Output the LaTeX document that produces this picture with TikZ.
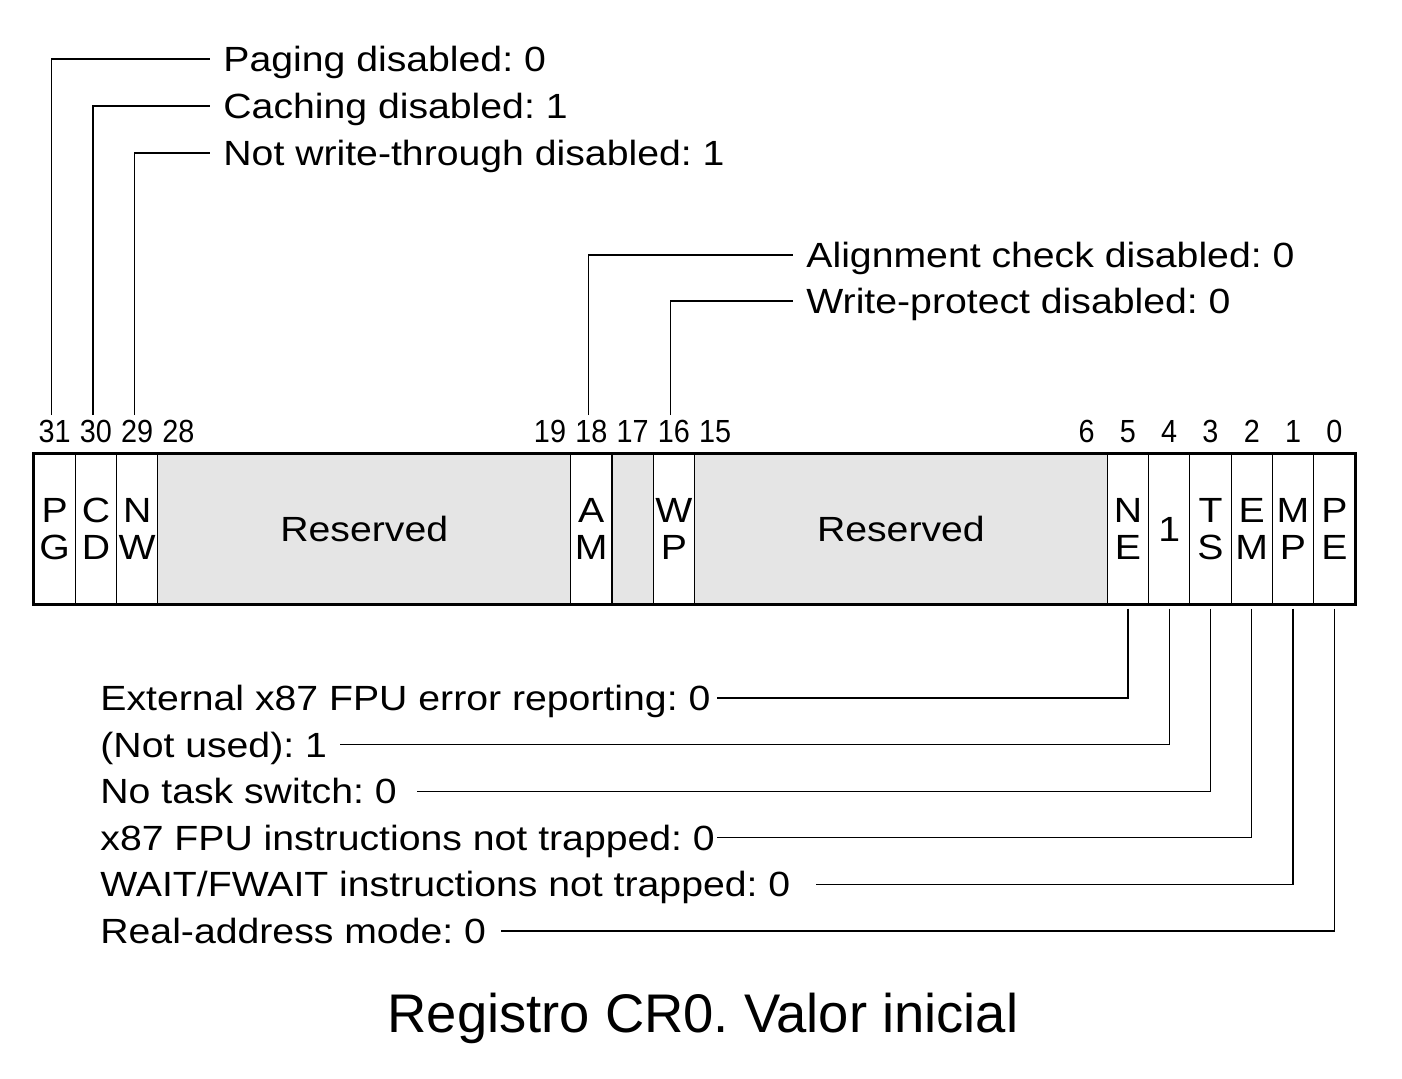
\documentclass[tikz,border=0pt]{standalone}
\usepackage{fontspec}
\setmainfont{Liberation Sans}
\newfontfamily\widesf{Liberation Sans}[FakeStretch=1.12]
\newfontfamily\narrowsf{Liberation Sans}[FakeStretch=0.9]
\usetikzlibrary{positioning}
\frenchspacing

\definecolor{resgray}{HTML}{E5E5E5}

\tikzset{
    regcell/.style={draw, line width=0.6pt, minimum height=75pt, inner sep=0pt,
        align=center, font=\widesf\fontsize{17.5}{18.3}\selectfont},
    bitnum/.style={font=\narrowsf\fontsize{16}{16}\selectfont, inner sep=2pt,
        text height=11.5pt, text depth=0pt},
    flaglbl/.style={font=\widesf\fontsize{17.5}{18}\selectfont, inner sep=0pt,
        text height=12.5pt, text depth=0pt},
    leader/.style={line width=0.6pt}
}

\begin{document}
\begin{tikzpicture}[x=0.5pt, y=-0.5pt]
            \useasboundingbox (0,0) rectangle (1402,1078);
            % register fields
            \foreach \nm/\hi/\lo/\txt/\fc in {pg/31/31/{P\\G}/white, cd/30/30/{C\\D}/white,
                nw/29/29/{N\\W}/white, resa/28/19/Reserved/resgray, am/18/18/{A\\M}/white,
                bxvii/17/17/{}/resgray, wp/16/16/{W\\P}/white, resb/15/6/Reserved/resgray,
                ne/5/5/{N\\E}/white, et/4/4/1/white, ts/3/3/{T\\S}/white,
                em/2/2/{E\\M}/white, mp/1/1/{M\\P}/white, pe/0/0/{P\\E}/white}{
                \pgfmathsetmacro\nb{\hi-\lo+1}
                \pgfmathsetmacro\cx{34+(31-\hi+\nb/2)*41.28}
                \node[regcell, fill=\fc, minimum width=\nb*20.64pt] (\nm) at (\cx,529) {\txt};
            }
            \draw[line width=1.1pt] (pg.north west) rectangle (pe.south east);
            % bit numbers
            \foreach \b in {31,30,29,28,19,18,17,16,15,6,5,4,3,2,1,0}
                \node[bitnum] (n\b) at ({34+(31.5-\b)*41.28},431) {\b};
            % upper flags
            \foreach \nm/\b/\x/\y/\txt in {pg/31/223/59/Paging disabled: 0,
                cd/30/223/106/Caching disabled: 1,
                nw/29/223/153/Not write-through disabled: 1,
                am/18/806/255/Alignment check disabled: 0,
                wp/16/806/301/Write-protect disabled: 0}{
                \node[flaglbl, anchor=west] (\nm-lbl) at (\x,\y) {\txt};
                \draw[leader] ([xshift=-1.5pt]n\b.north) |- ([xshift=-6.5pt]\nm-lbl.west);
            }
            % lower flags
            \foreach \nm/\y/\g/\txt in {ne/698/6/External x87 FPU error reporting: 0,
                et/744.6/13/(Not used): 1,
                ts/791.2/20/No task switch: 0,
                em/837.8/2/x87 FPU instructions not trapped: 0,
                mp/884.4/25/{WAIT/FWAIT instructions not trapped: 0},
                pe/931/15/Real-address mode: 0}{
                \node[flaglbl, anchor=west] (\nm-lbl) at (100,\y) {\txt};
                \draw[leader] ([yshift=-2pt]\nm.south) |- ([xshift=\g*0.5pt]\nm-lbl.east);
            }
            \node[font=\fontsize{27.2}{30}\selectfont] (title) at (703,1018) {Registro CR0. Valor inicial};
        \end{tikzpicture}
\end{document}
